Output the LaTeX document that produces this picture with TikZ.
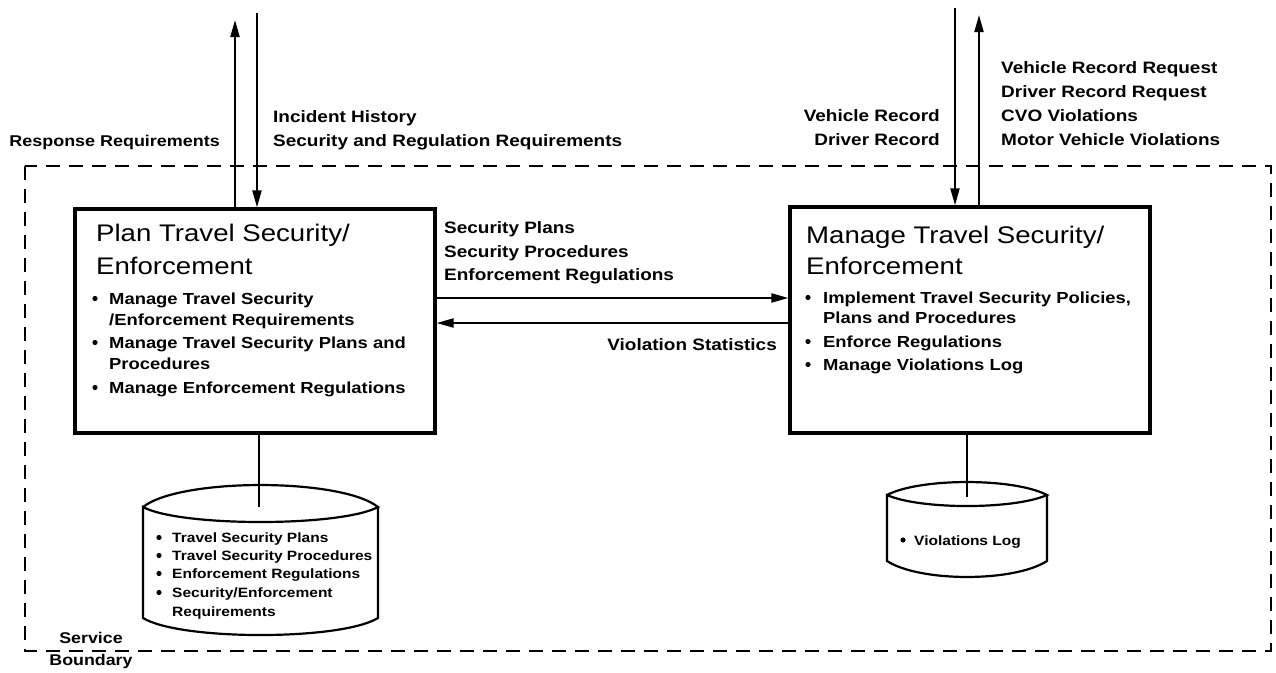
\documentclass[tikz,border=0pt]{standalone}
\usepackage{fontspec}
\setmainfont{Liberation Sans}[FakeStretch=1.15]
\usetikzlibrary{arrows.meta}
\tikzset{
  lbl/.style={font=\fontsize{16.5}{20}\selectfont\bfseries, inner sep=0pt},
  ttl/.style={font=\fontsize{24}{28}\selectfont, inner sep=0pt, anchor=base west},
  itm/.style={font=\fontsize{16}{20}\selectfont\bfseries, inner sep=0pt, anchor=base west},
  dbt/.style={font=\fontsize{13.5}{16}\selectfont\bfseries, inner sep=0pt, anchor=base west},
  sb/.style={font=\fontsize{15.5}{18}\selectfont\bfseries, inner sep=0pt, anchor=base},
  proc/.style={draw, line width=3.2pt, minimum width=360pt, minimum height=224pt, inner sep=0pt},
  arr/.style={line width=2pt, -{Triangle[length=17pt,width=9pt]}},
  conn/.style={line width=2pt},
  boundary/.style={line width=2.6pt, dash pattern=on 14pt off 9pt},
  db/.style={line width=2.2pt, line join=miter},
}
\begin{document}
\begin{tikzpicture}[x=1pt,y=-1pt]
\useasboundingbox (0,0) rectangle (1276,672);
\draw[boundary] (25,166) rectangle (1271,651);

% process boxes
\node[proc] (plan) at (255,321) {};
\node[proc, minimum height=226pt] (manage) at (970,320) {};

% left box text
\node[ttl] (pt1) at (96,241) {Plan Travel Security/};
\node[ttl] (pt2) at (96,274) {Enforcement};
\node[itm] (pi1) at (109,304) {Manage Travel Security};
\node[itm] (pi2) at (109,325) {/Enforcement Requirements};
\node[itm] (pi3) at (109,348) {Manage Travel Security Plans and};
\node[itm] (pi4) at (109,369) {Procedures};
\node[itm] (pi5) at (109,393) {Manage Enforcement Regulations};
\fill (95,298.5) circle (2.6);
\fill (95,342.5) circle (2.6);
\fill (95,387.5) circle (2.6);

% right box text
\node[ttl] (mt1) at (806,243) {Manage Travel Security/};
\node[ttl] (mt2) at (806,274) {Enforcement};
\node[itm] (mi1) at (823,303) {Implement Travel Security Policies,};
\node[itm] (mi2) at (823,323) {Plans and Procedures};
\node[itm] (mi3) at (823,347) {Enforce Regulations};
\node[itm] (mi4) at (823,370) {Manage Violations Log};
\fill (808,297.5) circle (2.6);
\fill (808,341.5) circle (2.6);
\fill (808,364.5) circle (2.6);

% external flow labels
\node[lbl, anchor=base east, font=\fontsize{15.6}{20}\selectfont\bfseries] (rr) at (220,146) {Response Requirements};
\node[lbl, anchor=base west] (ih) at (273,122) {Incident History};
\node[lbl, anchor=base west] (sr) at (273,146) {Security and Regulation Requirements};
\node[lbl, anchor=base east] (vr) at (940,121) {Vehicle Record};
\node[lbl, anchor=base east] (dr) at (940,145) {Driver Record};
\node[lbl, anchor=base west] (vq) at (1001,73) {Vehicle Record Request};
\node[lbl, anchor=base west] (dq) at (1001,97) {Driver Record Request};
\node[lbl, anchor=base west] (cv) at (1001,121) {CVO Violations};
\node[lbl, anchor=base west] (mv) at (1001,145) {Motor Vehicle Violations};

% internal flow labels
\node[lbl, anchor=base west] (sp) at (444,233) {Security Plans};
\node[lbl, anchor=base west] (spr) at (444,257) {Security Procedures};
\node[lbl, anchor=base west] (er) at (444,280) {Enforcement Regulations};
\node[lbl, anchor=base east] (vs) at (777,350) {Violation Statistics};

% vertical external flows
\coordinate (a1) at (235,20);
\coordinate (a2) at (257,13);
\coordinate (a3) at (955,8);
\coordinate (a4) at (979,15);
\draw[arr] (a1 |- plan.north) -- (a1);
\draw[arr] (a2) -- (a2 |- plan.north);
\draw[arr] (a3) -- (a3 |- manage.north);
\draw[arr] (a4 |- manage.north) -- (a4);

% horizontal flows
\coordinate (h1) at (600,298);
\coordinate (h2) at (600,323);
\draw[arr] (h1 -| plan.east) -- (h1 -| manage.west);
\draw[arr] (h2 -| manage.west) -- (h2 -| plan.east);

% data stores
\draw[db] (143,507) .. controls (180,477.7) and (341,477.7) .. (378,507)
  .. controls (341,527) and (180,527) .. (143,507) -- (143,618)
  .. controls (180,640.7) and (341,640.7) .. (378,618) -- (378,507);
\draw[db] (887,495) .. controls (920,477.7) and (1014,477.7) .. (1047,495)
  .. controls (1014,509.7) and (920,509.7) .. (887,495) -- (887,561)
  .. controls (920,582.3) and (1014,582.3) .. (1047,561) -- (1047,495);
\coordinate (d1) at (259,507);
\coordinate (d2) at (967,497);
\draw[conn] (d1 |- plan.south) -- (d1);
\draw[conn] (d2 |- manage.south) -- (d2);

% data store text
\node[dbt] (s1) at (172,542) {Travel Security Plans};
\node[dbt] (s2) at (172,560) {Travel Security Procedures};
\node[dbt] (s3) at (172,578) {Enforcement Regulations};
\node[dbt] (s4) at (172,597) {Security/Enforcement};
\node[dbt] (s5) at (172,616) {Requirements};
\fill (159,537.5) circle (2.6);
\fill (159,555.5) circle (2.6);
\fill (159,573.5) circle (2.6);
\fill (159,592.5) circle (2.6);
\node[dbt] (v1) at (914,545) {Violations Log};
\fill (903,540) circle (2.6);

% boundary label
\node[sb] (svc) at (91,643) {Service};
\node[sb] (bnd) at (91,665) {Boundary};
\end{tikzpicture}
\end{document}
